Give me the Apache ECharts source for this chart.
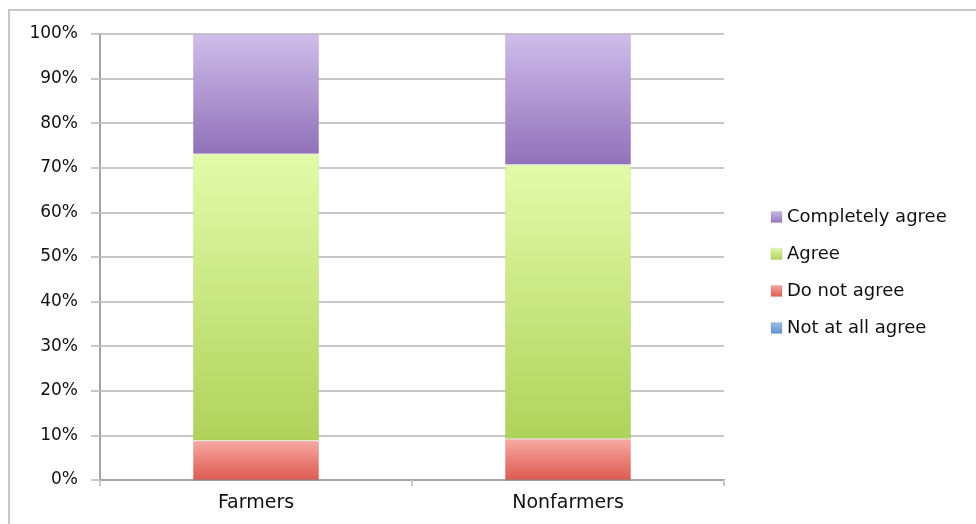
<!DOCTYPE html>
<html>
<head>
<meta charset="utf-8">
<script src="https://cdn.jsdelivr.net/npm/echarts@6/dist/echarts.min.js"></script>
<style>html,body{margin:0;padding:0;background:#fff;}#c{width:976px;height:524px;}</style>
</head>
<body>
<div id="c"></div>
<script>
var categories = ['Farmers', 'Nonfarmers'];
var notAtAllAgree = [0, 0];
var doNotAgree = [8.8, 9.2];
var agree = [64.3, 61.5];
var completelyAgree = [26.9, 29.3];
var legendOrder = ['Completely agree', 'Agree', 'Do not agree', 'Not at all agree'];

function grad(top, bottom) {
  return new echarts.graphic.LinearGradient(0, 0, 0, 1, [
    {offset: 0, color: top}, {offset: 1, color: bottom}
  ]);
}
var font = 'DejaVu Sans';
var chart = echarts.init(document.getElementById('c'));
function mk(name, data, top, bottom) {
  return {
    name: name, type: 'bar', stack: 's', data: data, barWidth: '40.5%',
    itemStyle: {color: grad(top, bottom), borderColor: 'rgba(0,0,0,0.05)', borderWidth: 1},
    emphasis: {disabled: true}
  };
}
chart.setOption({
  animation: false,
  graphic: [{
    type: 'rect', shape: {x: 9, y: 10, width: 1000, height: 600},
    style: {fill: 'none', stroke: '#c8c8c8', lineWidth: 2}, silent: true
  }],
  grid: {left: 100, right: 252, top: 34, bottom: 44},
  color: ['#7aa8e0', '#e8706a', '#bcd870', '#a488c8'],
  legend: {
    orient: 'vertical', left: 765, top: 203,
    data: legendOrder,
    itemWidth: 11, itemHeight: 11, itemGap: 19,
    icon: 'rect',
    textStyle: {fontFamily: font, fontSize: 18, color: '#111'}
  },
  xAxis: {
    type: 'category', data: categories,
    axisLine: {lineStyle: {color: '#a4a4a4', width: 2}},
    axisTick: {show: true, length: 6, lineStyle: {color: '#c8c8c8', width: 2}},
    axisLabel: {fontFamily: font, fontSize: 19, color: '#111', margin: 14}
  },
  yAxis: {
    type: 'value', min: 0, max: 100, interval: 10,
    axisLine: {show: true, lineStyle: {color: '#a4a4a4', width: 2}},
    axisTick: {show: true, length: 9, lineStyle: {color: '#c8c8c8', width: 2}},
    splitLine: {lineStyle: {color: '#c8c8c8', width: 2}},
    axisLabel: {formatter: '{value}%', fontFamily: font, fontSize: 17, color: '#111', margin: 22}
  },
  series: [
    mk('Not at all agree', notAtAllAgree, '#9cc2ee', '#5e8fd0'),
    mk('Do not agree', doNotAgree, '#f8a9a4', '#dd5a4f'),
    mk('Agree', agree, '#e2fbaa', '#b0d25a'),
    mk('Completely agree', completelyAgree, '#cfbdea', '#9071b9')
  ]
});
</script>
</body>
</html>
